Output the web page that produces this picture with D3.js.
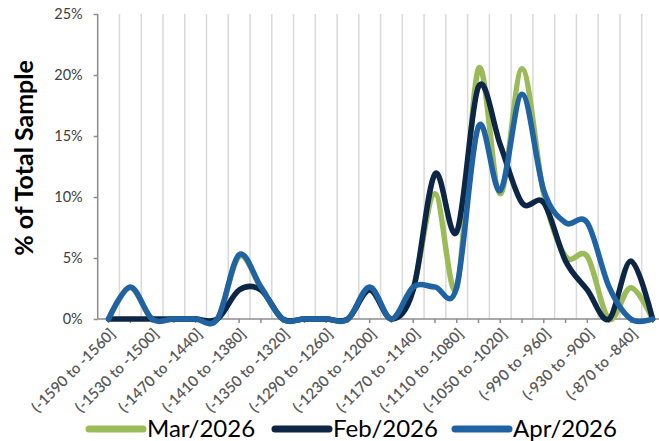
<!DOCTYPE html>
<html><head><meta charset="utf-8">
<script src="https://cdn.jsdelivr.net/npm/d3@7"></script>
<style>
html,body{margin:0;padding:0;background:#fff;}
svg{display:block;}
</style>
</head><body>
<div id="chart"></div>
<script>
const categories = [
  "(-1590 to -1560]", "(-1560 to -1530]", "(-1530 to -1500]", "(-1500 to -1470]",
  "(-1470 to -1440]", "(-1440 to -1410]", "(-1410 to -1380]", "(-1380 to -1350]",
  "(-1350 to -1320]", "(-1320 to -1290]", "(-1290 to -1260]", "(-1260 to -1230]",
  "(-1230 to -1200]", "(-1200 to -1170]", "(-1170 to -1140]", "(-1140 to -1110]",
  "(-1110 to -1080]", "(-1080 to -1050]", "(-1050 to -1020]", "(-1020 to -990]",
  "(-990 to -960]", "(-960 to -930]", "(-930 to -900]", "(-900 to -870]",
  "(-870 to -840]", "(-840 to -810]"
];
const seriesNames = ["Mar/2026", "Feb/2026", "Apr/2026"];
const marValues = [0, 2.56, 0, 0, 0, 0, 5.13, 2.56, 0, 0, 0, 0, 2.56, 0, 2.56, 10.26, 2.56, 20.51, 10.26, 20.51, 10.26, 5.13, 5.13, 0, 2.56, 0];
const febValues = [0, 0, 0, 0, 0, 0, 2.38, 2.38, 0, 0, 0, 0, 2.38, 0, 2.38, 11.90, 7.14, 19.05, 14.29, 9.52, 9.52, 4.76, 2.38, 0, 4.76, 0];
const aprValues = [0, 2.63, 0, 0, 0, 0, 5.26, 2.63, 0, 0, 0, 0, 2.63, 0, 2.63, 2.63, 2.63, 15.79, 10.53, 18.42, 10.53, 7.89, 7.89, 2.63, 0, 0];
const yTicks = [0, 5, 10, 15, 20, 25];
const yTitle = "% of Total Sample";
const colors = ["#9BBB59", "#0D2646", "#2063A2"];

(function () {
const W = 659, H = 441;
const plotLeft = 97.7, bandW = 21.76, plotTop = 14, plotBottom = 319;

const svg = d3.select("#chart").append("svg").attr("width", W).attr("height", H);
svg.append("rect").attr("width", W).attr("height", H).attr("fill", "#fff");

const x = d3.scaleBand().domain(categories).range([plotLeft, plotLeft + bandW * categories.length]).padding(0);
const y = d3.scaleLinear().domain([0, 25]).range([plotBottom, plotTop]);
const xc = c => x(c) + x.bandwidth() / 2;

svg.append("g").selectAll("line").data(categories.slice(1)).join("line")
  .attr("x1", d => x(d)).attr("x2", d => x(d))
  .attr("y1", plotTop).attr("y2", plotBottom)
  .attr("stroke", "#D9D9D9").attr("stroke-width", 1.5);

const yAxis = svg.append("g").attr("transform", `translate(${plotLeft},0)`)
  .call(d3.axisLeft(y).tickValues(yTicks).tickFormat(d => d + "%").tickSize(4).tickPadding(11));
yAxis.select(".domain").attr("stroke", "#8C8C8C").attr("stroke-width", 1.5).attr("d", `M0,${plotTop}V${plotBottom}`);
yAxis.selectAll(".tick line").attr("stroke", "#8C8C8C").attr("stroke-width", 1.5);
yAxis.selectAll(".tick text").attr("font-family", "Lato, sans-serif").attr("font-size", 14.5).attr("fill", "#404040");

const xAxis = svg.append("g").attr("transform", `translate(0,${plotBottom})`)
  .call(d3.axisBottom(x).tickSize(4).tickFormat((d, i) => i % 2 === 0 ? d : ""));
xAxis.select(".domain").attr("stroke", "#8C8C8C").attr("stroke-width", 1.5).attr("d", `M${plotLeft},0H${W}`);
xAxis.selectAll(".tick line").attr("stroke", "#8C8C8C").attr("stroke-width", 1.5);
xAxis.selectAll(".tick text")
  .attr("font-family", "Lato, sans-serif").attr("font-size", 15).attr("font-weight", 600).attr("fill", "#595959")
  .attr("text-anchor", "end").attr("dy", "0.35em").attr("y", 0)
  .attr("transform", "translate(4,12) rotate(-45)");

const data = [marValues, febValues, aprValues];
const line = d3.line().x((d, i) => xc(categories[i])).y(d => y(d)).curve(d3.curveCardinal.tension(0));
svg.append("g").selectAll("path").data(data).join("path")
  .attr("d", d => line(d)).attr("fill", "none")
  .attr("stroke", (d, i) => colors[i]).attr("stroke-width", 5.5)
  .attr("stroke-linecap", "round").attr("stroke-linejoin", "round");

svg.append("text").attr("transform", "translate(23,158) rotate(-90)")
  .attr("text-anchor", "middle").attr("dominant-baseline", "central")
  .attr("font-family", "Lato, sans-serif").attr("font-weight", "bold").attr("font-size", 25)
  .attr("fill", "#000").text(yTitle);

const legX = [89, 275, 455];
const lg = svg.append("g").selectAll("g").data(seriesNames).join("g")
  .attr("transform", (d, i) => `translate(${legX[i]},429)`);
lg.append("line").attr("x1", 0).attr("x2", 54).attr("y1", 0).attr("y2", 0)
  .attr("stroke", (d, i) => colors[i]).attr("stroke-width", 7).attr("stroke-linecap", "round");
lg.append("text").attr("x", 58).attr("y", 7.5)
  .attr("font-family", "Lato, sans-serif").attr("font-size", 24).attr("fill", "#000").text(d => d);
})();
</script>
</body></html>
